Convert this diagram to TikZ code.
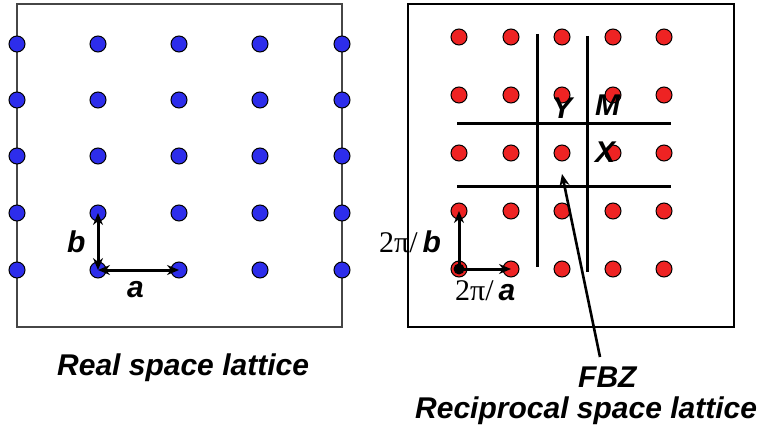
\documentclass[tikz,border=0pt]{standalone}
\usepackage{fontspec}
\setmainfont{Liberation Sans}
\newfontfamily\tnr{Liberation Serif}
\usetikzlibrary{arrows.meta}
\definecolor{dotblue}{RGB}{45,45,235}
\definecolor{dotred}{RGB}{238,35,35}
\definecolor{framegray}{RGB}{70,70,70}
\begin{document}
\begin{tikzpicture}[x=1pt,y=-1pt,
  bdot/.style={circle,draw=black,line width=1pt,fill=dotblue,minimum size=16pt,inner sep=0pt},
  rdot/.style={circle,draw=black,line width=1pt,fill=dotred,minimum size=16pt,inner sep=0pt},
  lbl/.style={font=\fontsize{30}{36}\selectfont\bfseries\itshape,inner sep=0pt,anchor=base west},
  pilbl/.style={font=\fontsize{30}{36}\selectfont,inner sep=0pt,anchor=base west},
  vec/.style={line width=3pt,-{Stealth[length=12pt,width=10pt]}},
  dvec/.style={line width=3pt,{Stealth[length=12pt,width=10pt]}-{Stealth[length=12pt,width=10pt]}},
  zone/.style={line width=3pt},
  lframe/.style={draw=framegray,line width=1.6pt},
  rframe/.style={draw=black,line width=1.6pt}
]
\useasboundingbox (0,0) rectangle (765,438);
% frames
\node[lframe,minimum width=325pt,minimum height=323pt,inner sep=0pt] (lbox) at (179.5,165.5) {};
\node[rframe,minimum width=326pt,minimum height=323pt,inner sep=0pt] (rbox) at (571,165.5) {};
% blue lattice
\foreach \i/\x in {0/17,1/98,2/179,3/260,4/342}
  \foreach \j/\y in {0/270,1/213,2/156,3/100,4/44}
    \node[bdot] (b-\i-\j) at (\x,\y) {};
% red lattice
\foreach \i/\x in {0/459,1/511,2/562,3/613,4/664}
  \foreach \j/\y in {0/269,1/211,2/153,3/95,4/37}
    \node[rdot] (r-\i-\j) at (\x,\y) {};
% FBZ lines
\coordinate (v1t) at (537,34); \coordinate (v1b) at (537,267);
\coordinate (v2t) at (587,36); \coordinate (v2b) at (587,272);
\coordinate (h1l) at (457,124); \coordinate (h1r) at (671,124);
\coordinate (h2l) at (457,187); \coordinate (h2r) at (671,187);
\draw[zone] (v1t) -- (v1b);
\draw[zone] (v2t) -- (v2b);
\draw[zone] (h1l) -- (h1r);
\draw[zone] (h2l) -- (h2r);
% real space vectors
\draw[dvec] (b-1-0.center) -- (b-1-1.center);
\draw[dvec] (b-1-0.center) -- (b-2-0.center);
\node[lbl] (lb) at (67,253) {b};
\node[lbl] (la) at (127,297) {a};
% reciprocal vectors
\fill[black] (r-0-0.center) circle (5.5pt);
\draw[vec] (r-0-0.center) -- (r-0-1.center);
\draw[vec] (r-0-0.center) -- (r-1-0.center);
\node[pilbl] (lpb) at (379,253) {{\tnr 2π/}\,{\bfseries\itshape b}};
\node[pilbl] (lpa) at (455,300) {{\tnr 2π/}\,{\bfseries\itshape a}};
% symmetry points
\node[lbl] (Y) at (552,119) {Y};
\node[lbl] (M) at (595,116) {M};
\node[lbl] (X) at (595,163) {X};
% captions
\node[lbl] (real) at (57,375) {Real space lattice};
\node[lbl] (fbz) at (578,387) {FBZ};
\node[lbl] (recip) at (415,418) {Reciprocal space lattice};
\coordinate (fbzarrow) at (600,357);
\draw[line width=2.6pt,-{Stealth[length=12pt,width=10pt]}] (fbzarrow) -- (562,174);
\end{tikzpicture}
\end{document}
